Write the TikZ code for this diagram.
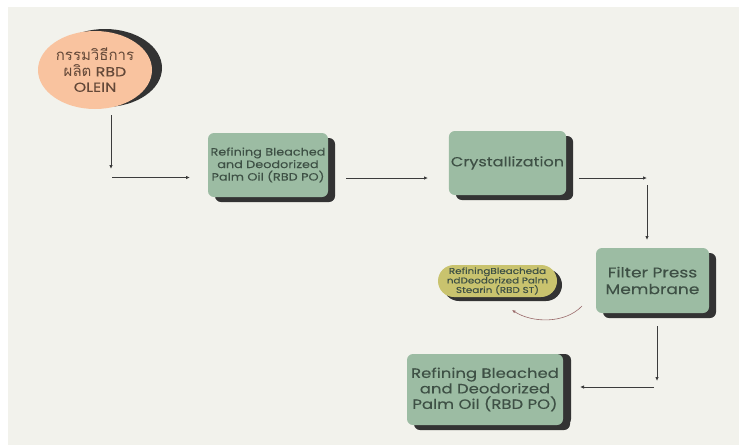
\documentclass[tikz,border=0pt]{standalone}
\usepackage{fontspec}
\setmainfont{Poppins}[FakeBold=0.12]
\newfontfamily\widefont{Poppins}[FakeStretch=1.22,FakeBold=0.12]
\newfontfamily\thaifont[Script=Thai]{Loma}
\usetikzlibrary{arrows.meta,shapes.geometric,shapes.misc,shadows}
\definecolor{bgc}{HTML}{F2F2EC}
\definecolor{sage}{HTML}{9CBCA3}
\definecolor{peach}{HTML}{F9C39F}
\definecolor{olive}{HTML}{C9C36E}
\definecolor{shadowc}{HTML}{333333}
\definecolor{txtg}{HTML}{3E5045}
\definecolor{txtb}{HTML}{634838}
\definecolor{linec}{HTML}{3C3C3C}
\definecolor{curvec}{HTML}{9A6A6A}
\tikzset{
  box/.style={rectangle, rounded corners=6pt, fill=sage, text=txtg, align=center, inner sep=2pt,
    general shadow={fill=shadowc, shadow xshift=7pt, shadow yshift=-5pt}},
  pill/.style={rounded rectangle, fill=olive, text=txtg, align=center, inner sep=1pt,
    general shadow={fill=shadowc, shadow xshift=5pt, shadow yshift=-4pt}},
  startell/.style={ellipse, fill=peach, text=txtb, align=center, inner sep=0pt,
    general shadow={fill=shadowc, shadow xshift=10pt, shadow yshift=2pt}},
  flow/.style={draw=linec, line width=0.8pt, -{Latex[length=4pt,width=3.5pt]}},
  curvearrow/.style={draw=curvec, line width=0.6pt, -{Latex[length=3.5pt,width=3pt]}}
}
\begin{document}
\begin{tikzpicture}[x=1pt,y=-1pt]
\useasboundingbox (0,0) rectangle (739,445);
\fill[white] (0,0) rectangle (739,445);
\fill[bgc] (8,7) rectangle (739,445);

\node[startell, minimum width=114pt, minimum height=78pt, font=\widefont\fontsize{13}{15.5}\selectfont] (start) at (95,70)
  {{\thaifont\fontsize{15}{15.5}\selectfont กรรมวิธีการ}\\{\thaifont\fontsize{15}{15.5}\selectfont ผลิต} RBD\\OLEIN};

\node[box, minimum width=120pt, minimum height=64pt, font=\widefont\fontsize{10.5}{12.5}\selectfont] (rbdpo) at (268,165)
  {Refining Bleached\\and Deodorized\\Palm Oil (RBD PO)};
\node[box, minimum width=113pt, minimum height=64pt, font=\widefont\fontsize{13.2}{15}\selectfont] (cryst) at (507.5,163)
  {Crystallization};
\node[box, minimum width=113pt, minimum height=65pt, font=\widefont\fontsize{14}{16.7}\selectfont] (filter) at (652.5,280.5)
  {Filter Press\\Membrane};
\node[pill, minimum width=121pt, minimum height=32pt, font=\widefont\fontsize{8.5}{9.5}\selectfont] (stearin) at (497.5,281)
  {RefiningBleacheda\\ndDeodorized Palm\\Stearin (RBD ST)};
\node[box, general shadow={fill=shadowc, shadow xshift=8pt, shadow yshift=0pt},
  minimum width=156pt, minimum height=71pt, font=\widefont\fontsize{13.5}{15.5}\selectfont] (olein) at (485,389.5)
  {Refining Bleached\\and Deodorized\\Palm Oil (RBD PO)};

% connector coordinates
\coordinate (s1) at (111,115);
\coordinate (e1) at (111,169);
\coordinate (s2) at (112,177.5);
\coordinate (e2) at (190,177.5);
\coordinate (s3) at (346,178);
\coordinate (e3) at (428,178);
\coordinate (s4) at (579,178);
\coordinate (e4) at (647,178);
\coordinate (s5) at (647,185);
\coordinate (e5) at (647,240);
\coordinate (s6) at (657,326);
\coordinate (e6) at (657,381);
\coordinate (s7) at (654,387);
\coordinate (e7) at (580,387);
\coordinate (s8) at (582,306);
\coordinate (e8) at (512,310);

\draw[flow] (s1) -- (e1);
\draw[flow] (s2) -- (e2);
\draw[flow] (s3) -- (e3);
\draw[flow] (s4) -- (e4);
\draw[flow] (s5) -- (e5);
\draw[flow] (s6) -- (e6);
\draw[flow] (s7) -- (e7);
\draw[curvearrow] (s8) .. controls (565,324) and (532,323) .. (e8);
\end{tikzpicture}
\end{document}
